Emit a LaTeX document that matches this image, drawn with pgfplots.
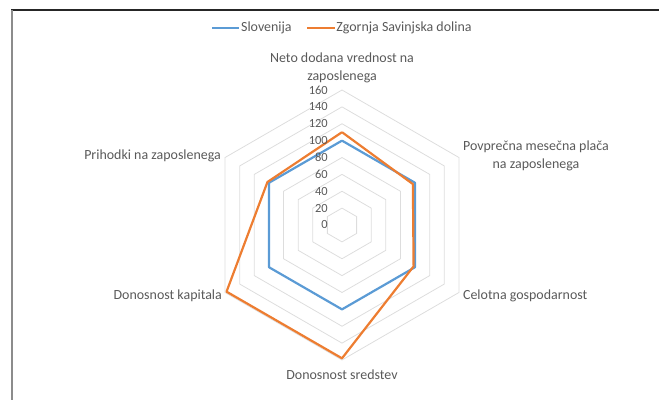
\documentclass[border=0pt]{standalone}
\usepackage{pgfplots}
\pgfplotsset{compat=1.18}
\usepgfplotslibrary{polar}
\usepackage{fontspec}
\setmainfont{Carlito}
\definecolor{slo}{HTML}{5B9BD5}
\definecolor{zsd}{HTML}{ED7D31}
\definecolor{gridc}{HTML}{DDDDDD}
\definecolor{txt}{HTML}{595959}
\begin{document}
\begin{tikzpicture}
\path[use as bounding box] (0bp,0bp) rectangle (659bp,400bp);
\draw[black!85, line width=1.4bp] (11bp,390bp) -- (659bp,390bp);
\draw[black!45, line width=1.6bp] (12bp,390bp) -- (12bp,0bp);
\begin{polaraxis}[
  at={(342bp,175bp)}, anchor=center,
  scale only axis, width=270bp, height=270bp,
  ymin=0, ymax=160, hide axis, clip=false,
  legend columns=2,
  legend style={draw=none, fill=none, at={(0.5,1.23)}, anchor=center,
    font=\fontsize{14}{16}\selectfont, text=txt,
    /tikz/every even column/.append style={column sep=14bp},
    inner sep=0pt},
  legend image code/.code={\draw[#1, line width=1.6bp] (-0.1bp,0bp) -- (27bp,0bp);},
  every axis legend/.append style={/tikz/every node/.append style={inner xsep=1pt}},
]
\pgfplotsinvokeforeach{20,40,60,80,100,120,140,160}{
  \addplot[gridc, line width=0.8bp, forget plot] coordinates {(90,#1) (30,#1) (-30,#1) (-90,#1) (-150,#1) (150,#1) (90,#1)};
}
\addplot[slo, line width=2.2bp, line join=round] coordinates {
  (90,100) (30,100) (-30,100) (-90,100) (-150,100) (150,100) (90,100)};
\addlegendentry{Slovenija}
\addplot[zsd, line width=2.2bp, line join=round] coordinates {
  (90,110) (30,97) (-30,98) (-90,158) (-150,158) (150,102) (90,110)};
\addlegendentry{Zgornja Savinjska dolina}
\pgfplotsinvokeforeach{0,20,40,60,80,100,120,140,160}{
  \node[anchor=east, inner sep=0pt, xshift=-14bp, text=txt, font=\fontsize{12.5}{12.5}\selectfont] at (axis cs:90,#1) {#1};
}
\begin{scope}[every node/.style={inner sep=0pt, text=txt, font=\fontsize{14}{18}\selectfont, align=center}]
\node[anchor=south, yshift=7bp] at (axis cs:90,160) {Neto dodana vrednost na\\zaposlenega};
\node[anchor=west, xshift=4bp, yshift=2bp] at (axis cs:30,160) {Povprečna mesečna plača\\na zaposlenega};
\node[anchor=west, xshift=4bp, yshift=-3bp] at (axis cs:-30,160) {Celotna gospodarnost};
\node[anchor=north, yshift=-10bp] at (axis cs:-90,160) {Donosnost sredstev};
\node[anchor=east, xshift=-3bp, yshift=-3bp] at (axis cs:-150,160) {Donosnost kapitala};
\node[anchor=east, xshift=-4bp, yshift=2bp] at (axis cs:150,160) {Prihodki na zaposlenega};
\end{scope}
\end{polaraxis}
\end{tikzpicture}
\end{document}
